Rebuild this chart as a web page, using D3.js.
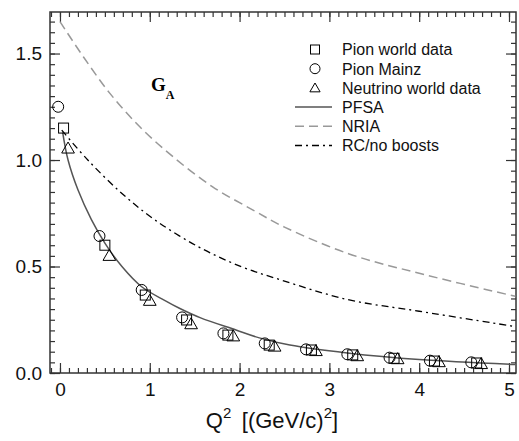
<!DOCTYPE html>
<html>
<head>
<meta charset="utf-8">
<script src="https://cdn.jsdelivr.net/npm/d3@7"></script>
<style>
  body { margin: 0; background: #fff; }
  .tickLabel { font-family: "Liberation Sans", Arial, sans-serif; font-size: 19px; fill: #111; }
  .legendText { font-family: "Liberation Sans", Arial, sans-serif; font-size: 16px; fill: #111; }
</style>
</head>
<body>
<div id="chart"></div>
<script>
// data points: [Q2, G_A]
var pionWorld = [[0.04, 1.15], [0.50, 0.60], [0.95, 0.366], [1.41, 0.249], [1.87, 0.178],
                 [2.33, 0.131], [2.80, 0.108], [3.26, 0.085], [3.72, 0.069], [4.17, 0.056], [4.64, 0.047]];
var pionMainz = [[-0.02, 1.25], [0.44, 0.643], [0.91, 0.39], [1.36, 0.261], [1.82, 0.186],
                 [2.28, 0.139], [2.74, 0.111], [3.20, 0.088], [3.67, 0.072], [4.12, 0.058], [4.58, 0.050]];
var neutrino  = [[0.09, 1.05], [0.55, 0.546], [1.00, 0.335], [1.46, 0.225], [1.93, 0.168],
                 [2.39, 0.120], [2.85, 0.099], [3.31, 0.075], [3.76, 0.061], [4.22, 0.047], [4.69, 0.038]];

// curves
var pfsa = [[0.03, 1.13], [0.09, 1.0], [0.2, 0.86], [0.35, 0.72], [0.5, 0.61], [0.69, 0.50],
            [0.91, 0.405], [1.17, 0.34], [1.33, 0.304], [1.56, 0.26], [1.96, 0.202], [2.22, 0.165],
            [2.56, 0.131], [3.2, 0.094], [4.0, 0.063], [5.07, 0.04]];
var nria = [[0.0, 1.65], [0.26, 1.485], [0.556, 1.313], [0.889, 1.156], [1.26, 1.015], [1.7, 0.874],
            [2.15, 0.765], [2.5, 0.685], [3.22, 0.559], [4.0, 0.468], [5.07, 0.36]];
var rcNoBoost = [[0.02, 1.14], [0.31, 1.0], [0.69, 0.843], [1.06, 0.718], [1.54, 0.593], [2.02, 0.499],
                 [2.46, 0.437], [3.2, 0.345], [4.0, 0.29], [5.07, 0.218]];

var xTicks = [0, 1, 2, 3, 4, 5];
var yTicks = [0.0, 0.5, 1.0, 1.5];
var legendLabels = ["Pion world data", "Pion Mainz", "Neutrino world data", "PFSA", "NRIA", "RC/no boosts"];

var margin = {top: 12, right: 3, bottom: 68, left: 50};
var fullWidth = 519, fullHeight = 441;
var width = fullWidth - margin.left - margin.right;
var height = fullHeight - margin.top - margin.bottom;

var x = d3.scaleLinear().domain([-0.111, 5.078]).range([0, width]);
var y = d3.scaleLinear().domain([0, 1.695]).range([height, 0]);

var svg = d3.select("#chart").append("svg")
  .attr("width", fullWidth)
  .attr("height", fullHeight);

var g = svg.append("g")
  .attr("transform", "translate(" + margin.left + "," + margin.top + ")");

var axisColor = "#333";

// minor / major tick values
var xMinor = d3.range(-1, 51).map(function(d) { return d / 10; }).filter(function(d) { return d > -0.111 && d < 5.078; });
var yMinor = d3.range(0, 34).map(function(d) { return d * 0.05; });

function styleAxis(sel) {
  sel.select(".domain").remove();
  sel.selectAll("line").attr("stroke", axisColor).attr("stroke-width", 1.2);
}

// bottom
g.append("g").attr("transform", "translate(0," + height + ")")
  .call(d3.axisBottom(x).tickValues(xMinor).tickSize(-5).tickFormat(""))
  .call(styleAxis);
g.append("g").attr("transform", "translate(0," + height + ")")
  .call(d3.axisBottom(x).tickValues(xTicks).tickSize(-10).tickFormat(d3.format("d")))
  .call(styleAxis)
  .selectAll("text").attr("class", "tickLabel")
  .attr("dy", "0.71em").attr("y", 10);
// top
g.append("g")
  .call(d3.axisTop(x).tickValues(xMinor).tickSize(-5).tickFormat(""))
  .call(styleAxis);
g.append("g")
  .call(d3.axisTop(x).tickValues(xTicks).tickSize(-10).tickFormat(""))
  .call(styleAxis);
// left
g.append("g")
  .call(d3.axisLeft(y).tickValues(yMinor).tickSize(-5).tickFormat(""))
  .call(styleAxis);
g.append("g")
  .call(d3.axisLeft(y).tickValues(yTicks).tickSize(-10).tickFormat(d3.format(".1f")))
  .call(styleAxis)
  .selectAll("text").attr("class", "tickLabel")
  .attr("x", -8);
// right
g.append("g").attr("transform", "translate(" + width + ",0)")
  .call(d3.axisRight(y).tickValues(yMinor).tickSize(-5).tickFormat(""))
  .call(styleAxis);
g.append("g").attr("transform", "translate(" + width + ",0)")
  .call(d3.axisRight(y).tickValues(yTicks).tickSize(-10).tickFormat(""))
  .call(styleAxis);

// remove font attrs set by d3 on the axis groups
g.selectAll("g").attr("font-size", null).attr("font-family", null);

// frame
g.append("rect")
  .attr("width", width).attr("height", height)
  .attr("fill", "none").attr("stroke", axisColor).attr("stroke-width", 1.5);

// curves
g.append("clipPath").attr("id", "clip")
  .append("rect").attr("width", width).attr("height", height);

var line = d3.line()
  .x(function(d) { return x(d[0]); })
  .y(function(d) { return y(d[1]); })
  .curve(d3.curveCatmullRom.alpha(0.5));

var curves = [
  {name: "PFSA", data: pfsa, color: "#555", dash: null, width: 1.5},
  {name: "NRIA", data: nria, color: "#999", dash: "9,5", width: 1.5},
  {name: "RC", data: rcNoBoost, color: "#000", dash: "7,4,2,4", width: 1.3}
];

g.append("g").attr("clip-path", "url(#clip)")
  .selectAll("path").data(curves).enter().append("path")
  .attr("d", function(d) { return line(d.data); })
  .attr("fill", "none")
  .attr("stroke", function(d) { return d.color; })
  .attr("stroke-width", function(d) { return d.width; })
  .attr("stroke-dasharray", function(d) { return d.dash; });

// markers
var triSym = d3.symbol().type(d3.symbolTriangle).size(70);
function drawSquare(sel, s) {
  sel.append("rect").attr("x", -s / 2).attr("y", -s / 2).attr("width", s).attr("height", s)
    .attr("fill", "none").attr("stroke", "#000").attr("stroke-width", 1);
}

var sq = g.append("g").selectAll("g").data(pionWorld).enter().append("g")
  .attr("transform", function(d) { return "translate(" + x(d[0]) + "," + y(d[1]) + ")"; });
drawSquare(sq, 10);

g.append("g").selectAll("circle").data(pionMainz).enter().append("circle")
  .attr("cx", function(d) { return x(d[0]); })
  .attr("cy", function(d) { return y(d[1]); })
  .attr("r", 5.5)
  .attr("fill", "none").attr("stroke", "#000").attr("stroke-width", 1);

g.append("g").selectAll("path").data(neutrino).enter().append("path")
  .attr("d", triSym)
  .attr("transform", function(d) { return "translate(" + x(d[0]) + "," + y(d[1]) + ")"; })
  .attr("fill", "none").attr("stroke", "#000").attr("stroke-width", 1);

// G_A label
var ga = svg.append("text").attr("x", 151).attr("y", 91)
  .style("font-family", "'Liberation Serif', 'Times New Roman', serif")
  .style("font-weight", "bold").style("font-size", "19px");
ga.append("tspan").text("G");
ga.append("tspan").attr("dy", 8).style("font-size", "12px").text("A");

// legend
var legend = svg.append("g");
var lx = 315, ly0 = 49.5, lstep = 19.2;
legend.selectAll("text").data(legendLabels).enter().append("text")
  .attr("class", "legendText")
  .attr("x", 342)
  .attr("y", function(d, i) { return ly0 + i * lstep + 5.8; })
  .text(function(d) { return d; });

drawSquare(legend.append("g").attr("transform", "translate(" + lx + "," + ly0 + ")"), 9);
legend.append("circle").attr("cx", lx).attr("cy", ly0 + lstep).attr("r", 5)
  .attr("fill", "none").attr("stroke", "#000").attr("stroke-width", 1);
legend.append("path").attr("d", d3.symbol().type(d3.symbolTriangle).size(45))
  .attr("transform", "translate(" + lx + "," + (ly0 + 2 * lstep + 1) + ")")
  .attr("fill", "none").attr("stroke", "#000").attr("stroke-width", 1);

legend.selectAll("line").data(curves).enter().append("line")
  .attr("x1", 295).attr("x2", 332)
  .attr("y1", function(d, i) { return ly0 + (3 + i) * lstep; })
  .attr("y2", function(d, i) { return ly0 + (3 + i) * lstep; })
  .attr("stroke", function(d) { return d.color; })
  .attr("stroke-width", function(d) { return d.width; })
  .attr("stroke-dasharray", function(d) { return d.dash; });

// x axis title
var title = svg.append("text")
  .attr("x", 272).attr("y", 428)
  .attr("text-anchor", "middle")
  .style("font-family", "'Liberation Sans', Arial, sans-serif")
  .style("font-size", "22px").style("fill", "#111");
title.append("tspan").text("Q");
title.append("tspan").attr("dy", -10).style("font-size", "15px").text("2");
title.append("tspan").attr("dy", 10).text("\u2009 [(GeV/c)");
title.append("tspan").attr("dy", -10).style("font-size", "15px").text("2");
title.append("tspan").attr("dy", 10).text("]");
</script>
</body>
</html>
